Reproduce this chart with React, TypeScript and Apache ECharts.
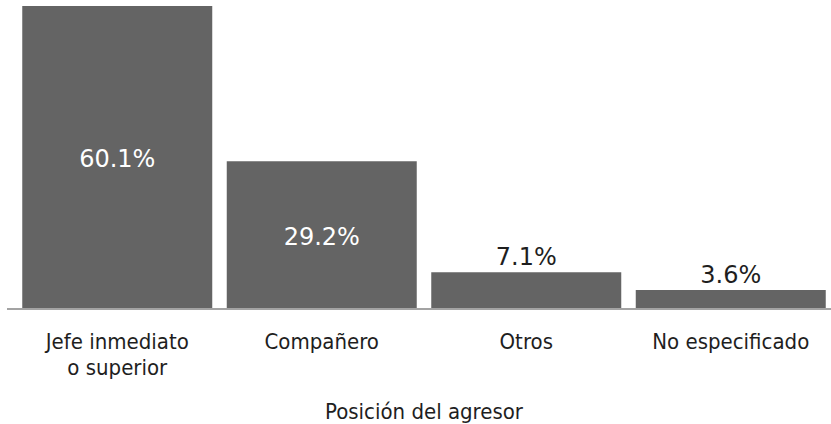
import React, { useEffect, useRef } from "react";
import * as echarts from "echarts";

const categories = ["Jefe inmediato\no superior", "Compañero", "Otros", "No especificado"];
const values = [60.1, 29.2, 7.1, 3.6];
const insideFlags = [true, true, false, false];
const axisName = "Posición del agresor";

export default function App() {
  const ref = useRef<HTMLDivElement>(null);
  useEffect(() => {
    if (!ref.current) return;
    const chart = echarts.init(ref.current, undefined, { renderer: "svg" });
    const labelFont = "'DejaVu Sans Condensed', 'DejaVu Sans', sans-serif";
    const valueFont = "'DejaVu Sans', sans-serif";
    chart.setOption({
      animation: false,
      grid: {
        left: 15,
        width: 818,
        top: 6,
        bottom: 116,
        containLabel: false,
        outerBoundsMode: "none",
      },
      graphic: [
        {
          type: "line",
          shape: { x1: 7, y1: 309, x2: 831, y2: 309 },
          style: { stroke: "#a3a3a3", lineWidth: 2 },
          z: 10,
        },
      ],
      xAxis: {
        type: "category",
        data: categories,
        axisLine: { show: false },
        axisTick: { show: false },
        axisLabel: {
          color: "#1e1e1e",
          fontSize: 22,
          fontFamily: labelFont,
          margin: 20,
          lineHeight: 26,
          interval: 0,
        },
        name: axisName,
        nameLocation: "middle",
        nameGap: 92,
        nameTextStyle: { color: "#1e1e1e", fontSize: 22, fontFamily: labelFont },
      },
      yAxis: {
        type: "value",
        min: 0,
        max: 60.1,
        show: false,
        splitLine: { show: false },
      },
      series: [
        {
          type: "bar",
          barWidth: 190,
          itemStyle: { color: "#646464" },
          data: values.map((v, i) => ({
            value: v,
            label: {
              show: true,
              position: insideFlags[i] ? "inside" : "top",
              distance: 3,
              offset: insideFlags[i] ? [0, 2] : [0, 0],
              color: insideFlags[i] ? "#ffffff" : "#1e1e1e",
              fontSize: 24,
              fontFamily: valueFont,
              formatter: (p: any) => p.value.toFixed(1) + "%",
            },
          })),
        },
      ],
    });
    return () => chart.dispose();
  }, []);
  return <div ref={ref} style={{ width: 831, height: 424, position: "absolute", left: 0, top: 0 }} />;
}
